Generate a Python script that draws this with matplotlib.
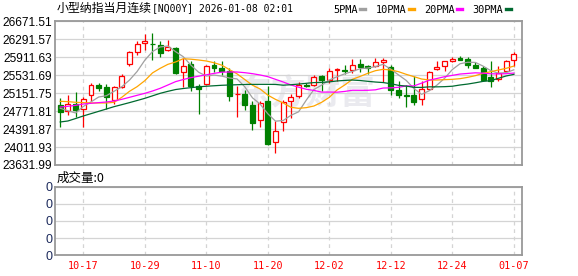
import numpy as np
import pandas as pd
import matplotlib
matplotlib.use("Agg")
import matplotlib.pyplot as plt
from matplotlib.patches import Rectangle
from matplotlib.lines import Line2D

# OHLC values, one per trading day
opens = [24895, 24768, 24930, 24817, 25106, 25318, 25276, 25015, 25290, 25776,
         26016, 26206, 26200, 26164, 26058, 26100, 25593, 25769, 25311, 25353,
         25755, 25685, 25628, 25128, 25135, 24895, 24578, 24979, 24119, 24542,
         24979, 25085, 25332, 25318, 25508, 25438, 25642, 25635, 25649, 25769,
         25727, 25720, 25804, 25699, 25226, 25113, 25106, 25029, 25247, 25663,
         25720, 25826, 25896, 25868, 25755, 25685, 25487, 25452, 25628, 25854]
highs = [25050, 25106, 25177, 25071, 25367, 25367, 25346, 25297, 25565, 26051,
         26249, 26404, 26425, 26249, 26270, 26122, 25896, 25840, 25346, 25755,
         25840, 25840, 25685, 25297, 25226, 24979, 24979, 25311, 24557, 25001,
         25135, 25388, 25367, 25529, 25544, 25685, 25685, 25741, 25882, 25875,
         25755, 25896, 25896, 25755, 25402, 25332, 25508, 25417, 25614, 25826,
         25840, 25910, 25945, 25910, 25811, 25720, 25826, 25720, 25854, 26023]
lows = [24430, 24683, 24648, 24430, 24979, 25205, 24817, 24923, 25269, 25720,
        25967, 26072, 25861, 25910, 26037, 25558, 25276, 25205, 24712, 25332,
        25593, 25529, 24994, 24641, 24803, 24380, 24430, 24063, 23887, 24359,
        24627, 25050, 25290, 25297, 25205, 25367, 25417, 25558, 25579, 25600,
        25558, 25699, 25388, 25120, 25050, 24852, 24895, 24909, 25226, 25642,
        25628, 25811, 25847, 25685, 25677, 25417, 25276, 25417, 25600, 25720]
closes = [24754, 24930, 24803, 25029, 25318, 25269, 25064, 25276, 25508, 26016,
          26185, 26256, 26190, 25995, 26122, 25586, 25720, 25297, 25247, 25720,
          25685, 25614, 25099, 25142, 24895, 24521, 24944, 24077, 24359, 24965,
          25064, 25318, 25311, 25487, 25424, 25614, 25656, 25621, 25741, 25706,
          25685, 25811, 25861, 25226, 25106, 25099, 24965, 25240, 25600, 25706,
          25826, 25882, 25854, 25755, 25692, 25438, 25402, 25579, 25826, 25981]

# moving average lines
ma5 = [24831, 24781, 24732, 24870, 24967, 25070, 25097, 25191, 25287, 25427,
       25610, 25848, 26031, 26128, 26150, 26030, 25923, 25744, 25594, 25514,
       25534, 25513, 25473, 25452, 25287, 25054, 24920, 24716, 24559, 24573,
       24682, 24757, 25003, 25229, 25321, 25431, 25498, 25560, 25611, 25668,
       25682, 25713, 25761, 25658, 25538, 25421, 25251, 25127, 25202, 25322,
       25467, 25651, 25774, 25805, 25802, 25724, 25628, 25573, 25587, 25645]
ma10 = [24979, 24972, 24958, 24951, 24944, 24944, 24944, 24958, 25063, 25190,
        25289, 25416, 25580, 25677, 25761, 25811, 25880, 25870, 25853, 25832,
        25795, 25745, 25650, 25560, 25440, 25320, 25240, 25110, 25020, 24945,
        24852, 24831, 24845, 24880, 24958, 25063, 25219, 25324, 25444, 25505,
        25571, 25627, 25656, 25642, 25606, 25550, 25501, 25451, 25430, 25430,
        25437, 25444, 25458, 25486, 25522, 25571, 25606, 25642, 25677, 25724]
ma20 = [24859, 24873, 24894, 24922, 24937, 24951, 24965, 24986, 25021, 25063,
        25106, 25148, 25197, 25254, 25324, 25395, 25440, 25480, 25510, 25540,
        25570, 25595, 25600, 25599, 25585, 25564, 25536, 25501, 25444, 25388,
        25325, 25278, 25234, 25209, 25174, 25175, 25172, 25188, 25213, 25212,
        25212, 25222, 25260, 25264, 25275, 25304, 25305, 25363, 25425, 25462,
        25500, 25528, 25556, 25569, 25582, 25574, 25561, 25559, 25563, 25577]
ma30 = [24542, 24563, 24615, 24669, 24718, 24767, 24816, 24866, 24908, 24951,
        24996, 25042, 25095, 25148, 25190, 25228, 25250, 25268, 25285, 25298,
        25308, 25318, 25324, 25330, 25336, 25338, 25338, 25338, 25336, 25320,
        25330, 25343, 25360, 25375, 25379, 25390, 25410, 25421, 25429, 25419,
        25402, 25387, 25376, 25351, 25317, 25301, 25275, 25273, 25285, 25285,
        25289, 25298, 25324, 25344, 25371, 25401, 25416, 25466, 25515, 25549]

dates = pd.bdate_range("2025-10-14", "2026-01-07", freq="C",
                       holidays=["2025-12-25", "2026-01-01"])
price_ticks = [23631.99, 24011.93, 24391.87, 24771.81, 25151.75,
               25531.69, 25911.63, 26291.57, 26671.51]
ma_names = ["5PMA", "10PMA", "20PMA", "30PMA"]
ma_colors = ["#a0a0a0", "#ffa500", "#ff00ff", "#006a30"]

UP = "#ff0000"
DOWN = "#008000"
GRID = "#d4d4d4"
SPINE = "#999999"

fig = plt.figure(figsize=(5.78, 2.76), dpi=100)
ax = fig.add_axes([0.0957, 0.4022, 0.8079, 0.5206])
vax = fig.add_axes([0.0957, 0.075, 0.8079, 0.2486])

x = np.arange(len(closes))
tick_idx = list(range(3, len(closes), 8))
tick_lab = [dates[i].strftime("%m-%d") for i in tick_idx]

# candles
w = 0.64
for i in x:
    o, h, l, c = opens[i], highs[i], lows[i], closes[i]
    col = UP if c >= o else DOWN
    ax.vlines(i, l, h, color=col, lw=0.9, zorder=2)
    bottom = min(o, c)
    height = max(abs(c - o), 1)
    face = "white" if c >= o else DOWN
    ax.add_patch(Rectangle((i - w / 2, bottom), w, height, facecolor=face,
                           edgecolor=col, lw=0.9, zorder=3))

for vals, col in zip([ma5, ma10, ma20, ma30], ma_colors):
    ax.plot(x, vals, color=col, lw=0.9, zorder=4)

ax.text(0.538, 0.50, "东方财富", transform=ax.transAxes, ha="center", va="center",
        fontsize=25, fontweight="bold", color="#eaeaef", zorder=0,
        family=["Noto Sans CJK SC", "DejaVu Sans"])

for a in (ax, vax):
    a.set_xlim(-0.64, 60.1)
    a.set_xticks(tick_idx)
    a.grid(axis="x", color=GRID, lw=0.9, linestyle=(0, (3, 3)), zorder=0)
    a.grid(axis="y", color=GRID, lw=0.9, zorder=0)
    a.set_axisbelow(True)
    for s in a.spines.values():
        s.set_color(SPINE)
        s.set_linewidth(1.3)
    a.tick_params(length=0)

ax.set_ylim(price_ticks[0], price_ticks[-1])
ax.set_yticks(price_ticks)
ax.set_yticklabels(["%.2f" % v for v in price_ticks], family="Liberation Sans",
                   fontsize=8.6, color="black")
ax.tick_params(axis="y", pad=2)
ax.set_xticklabels([])

vax.set_ylim(0, 4)
vax.set_yticks(range(5))
vax.set_yticklabels(["0"] * 5, family="Liberation Sans", fontsize=9,
                    color="#1c2a5c")
vax.tick_params(axis="y", pad=2)
vax.set_xticklabels(tick_lab, family="DejaVu Sans Mono", fontsize=7.3, color=UP)
vax.tick_params(axis="x", pad=4)

# title and volume caption
fig.text(57 / 578, 1 - 8.5 / 276, "小型纳指当月连续", ha="left", va="center",
         fontsize=8.6, family=["Noto Sans CJK SC", "DejaVu Sans"])
fig.text(152 / 578, 1 - 8.5 / 276, "[NQ00Y] 2026-01-08 02:01", ha="left",
         va="center", fontsize=7.0, family="DejaVu Sans Mono")
fig.text(57 / 578, 1 - 178 / 276, "成交量:0", ha="left", va="center",
         fontsize=9, family=["Noto Sans CJK SC", "DejaVu Sans"])

handles = [Line2D([], [], color=c, lw=2.4) for c in ma_colors]
ax.legend(handles, ma_names, loc="center right", bbox_to_anchor=(0.976, 1.079),
          ncol=4, frameon=False, markerfirst=False, handlelength=0.5,
          handletextpad=0.25, columnspacing=1.0, borderpad=0, borderaxespad=0,
          prop={"family": "DejaVu Sans Mono", "size": 7.4})

fig.savefig("out.png", dpi=100)
